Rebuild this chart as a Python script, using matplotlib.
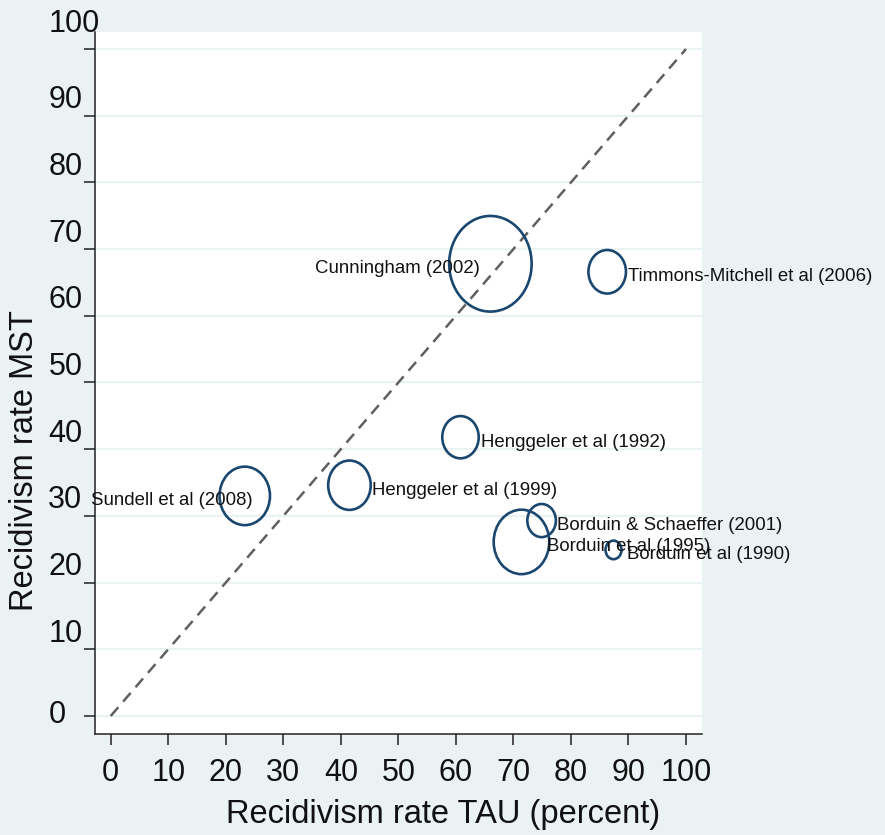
import numpy as np
import matplotlib
matplotlib.use("Agg")
import matplotlib.pyplot as plt
from matplotlib.path import Path
from matplotlib.transforms import Affine2D, ScaledTranslation
from matplotlib.markers import MarkerStyle

plt.rcParams['font.family'] = ['Liberation Sans', 'DejaVu Sans']

# ---- data ----
studies = ["Cunningham (2002)", "Timmons-Mitchell et al (2006)",
           "Henggeler et al (1992)", "Henggeler et al (1999)",
           "Sundell et al (2008)", "Borduin et al (1995)",
           "Borduin & Schaeffer (2001)", "Borduin et al (1990)"]
tau = [66.0, 86.3, 60.8, 41.5, 23.3, 71.4, 74.9, 87.4]   # recidivism rate TAU
mst = [67.8, 66.6, 41.8, 34.6, 33.0, 26.1, 29.3, 24.9]   # recidivism rate MST
weight = [425, 88, 83, 113, 159, 193, 51, 16]             # bubble weight
ticks = [0, 10, 20, 30, 40, 50, 60, 70, 80, 90, 100]

# ---- layout / style ----
BG = '#EAF2F3'
NAVY = '#1A476F'
DPI = 100
fig = plt.figure(figsize=(8.85, 8.35), dpi=DPI, facecolor=BG)
ax = fig.add_axes([95/885, 101/835, 607/885, 702/835])
ax.set_facecolor('white')
ax.set_xlim(-2.73, 102.78)
ax.set_ylim(-2.70, 102.55)

for s in ['top', 'right']:
    ax.spines[s].set_visible(False)
for s in ['left', 'bottom']:
    ax.spines[s].set_color('#222222')
    ax.spines[s].set_linewidth(1.1)

ax.set_xticks(ticks)
ax.set_yticks(ticks)
ax.set_xticklabels([str(t) for t in ticks])
ax.set_yticklabels([str(t) for t in ticks])
ax.tick_params(axis='both', direction='out', length=7.8, width=1.1,
               color='#222222', labelsize=22, labelcolor='#111111')
ax.tick_params(axis='x', pad=9.5)
ax.tick_params(axis='y', pad=25.8)
for lab in ax.get_yticklabels():
    lab.set_ha('left')

# per-label vertical shift of y tick labels (pixels, upward)
yshift = {0: 4.5, 100: 29}
for tick in ax.yaxis.get_major_ticks():
    val = int(round(tick.get_loc()))
    dy = yshift.get(val, 19) / DPI
    lab = tick.label1
    lab.set_transform(lab.get_transform() + ScaledTranslation(0, dy, fig.dpi_scale_trans))

# gridlines
ax.yaxis.grid(True, color=BG, linewidth=1.5)
ax.xaxis.grid(False)
ax.set_axisbelow(True)

# diagonal reference line
ax.plot([ticks[0], ticks[-1]], [ticks[0], ticks[-1]], color='#606060', lw=1.8,
        dashes=(4.6, 3.0), zorder=2)

# ellipse-shaped hollow marker (picture is stretched vertically)
stretch = 1.16
ell = Path.unit_circle().transformed(Affine2D().scale(1/stretch, 1))
marker = MarkerStyle(ell)
w = np.asarray(weight, dtype=float)
sizes = (4.0 * stretch * 0.72) ** 2 * w
ax.scatter(tau, mst, s=sizes, marker=marker, facecolors='none',
           edgecolors=NAVY, linewidths=1.9, zorder=3)

# labels: (dx px, ha) relative to the bubble centre
lab_dx = [-10.5, 21, 20.7, 22.8, 8, 25.3, 15.3, 13.7]
lab_ha = ['right', 'left', 'left', 'left', 'right', 'left', 'left', 'left']
for name, x, y, dx, ha in zip(studies, tau, mst, lab_dx, lab_ha):
    ax.annotate(name, (x, y), xytext=(dx * 0.72, -5 * 0.72),
                textcoords='offset points', ha=ha, va='center',
                fontsize=13.4, color='#111111', zorder=4)

# axis titles
ax.set_xlabel("Recidivism rate TAU (percent)", fontsize=23.5, color='#111111')
ax.xaxis.label.set_va('baseline')
ax.xaxis.set_label_coords((443 - 95) / 607, (734 - 823) / 702)
ax.set_ylabel("Recidivism rate MST", fontsize=23.5, color='#111111')
ax.yaxis.label.set_va('baseline')
ax.yaxis.set_label_coords((33 - 95) / 607, (734 - 461) / 702)

fig.savefig("out.png", dpi=DPI, facecolor=BG)
